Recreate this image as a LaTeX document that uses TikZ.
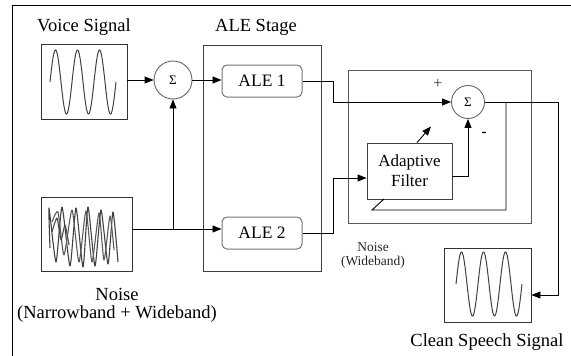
\documentclass[tikz,border=0pt]{standalone}
\usepackage{fontspec}
\setmainfont{Liberation Serif}
\usetikzlibrary{arrows.meta,calc}
\begin{document}
\begin{tikzpicture}[x=1pt,y=-1pt,
  lbl/.style={inner sep=0pt,font=\fontsize{18.5}{21}\selectfont},
  small/.style={inner sep=0pt,align=center,font=\fontsize{13.5}{14}\selectfont,text=black!85},
  sigbox/.style={draw=black!80,line width=0.9pt,inner sep=0pt},
  alebox/.style={draw=black!55,line width=1pt,rounded corners=5pt,minimum width=80pt,minimum height=32pt,inner sep=0pt,font=\fontsize{17.5}{20}\selectfont},
  sumc/.style={circle,draw=black!60,line width=0.9pt,inner sep=0pt,font=\fontsize{13}{13}\selectfont},
  frame/.style={draw=black!75,line width=0.9pt,inner sep=0pt},
  arr/.style={-{Triangle[length=9pt,width=7pt]},line width=0.9pt},
  ln/.style={line width=0.9pt},
  wave/.style={line width=1pt,black!75},
  scrib/.style={line width=1.1pt,black!75,line join=round}]
\useasboundingbox (0,0) rectangle (571,356);
% outer frame (left and top edges)
\draw[line width=1pt] (12,357) -- (12,5) -- (572,5);

% voice
\node[lbl] (voicelbl) at (84,27) {Voice Signal};
\node[sigbox,minimum width=86pt,minimum height=75pt] (voice) at (84,81.5) {};
\draw[wave] plot[variable=\t,domain=0:66,samples=120] ({50+\t},{82-32*sin(16.3636*\t)});

% sum 1
\node[sumc,minimum size=38pt] (s1) at (173,80) {Σ};
\draw[arr] (voice.east |- s1) -- (s1.west);

% ALE stage
\node[lbl] (stagelbl) at (256,27) {ALE Stage};
\node[frame,minimum width=118pt,minimum height=226pt] (stage) at (262,158) {};
\node[alebox] (ale1) at (262,81) {ALE 1};
\node[alebox] (ale2) at (262,233) {ALE 2};
\draw[arr] (s1.east) -- (s1.east -| ale1.west);

% noise
\node[sigbox,minimum width=91pt,minimum height=74pt] (noise) at (86.5,234) {};
\draw[scrib] plot[smooth,tension=0.35] coordinates {(50,248) (49,208) (56,262) (62,207) (70,266) (76,208) (83,267) (88,207) (95,266) (101,210) (108,264) (113,212) (118,262)};
\draw[scrib,black!65] plot[smooth,tension=0.35] coordinates {(52,222) (58,212) (64,255) (72,210) (79,262) (86,211) (92,262) (99,213) (104,260) (110,216) (114,250)};
\draw[scrib,black!70] plot[smooth,tension=0.35] coordinates {(52,232) (57,218) (61,240) (65,225) (69,245)};
\node[lbl,align=center] (noiselbl) at (117,305) {Noise\\[-3pt](Narrowband + Wideband)};
\coordinate (j) at (173,229);
\draw[arr] (j -| noise.east) -- (j -| ale2.west);
\draw[arr] (j) -- (s1.south);

% adaptive filter section
\node[frame,draw=black!65,minimum width=183pt,minimum height=153pt] (filt) at (439.5,146.5) {};
\node[sumc,minimum size=33pt] (s2) at (468,102) {Σ};
\node[inner sep=0pt,font=\fontsize{16}{16}\selectfont,text=black!80] (plus) at (438,84) {+};
\node[inner sep=0pt,font=\bfseries\fontsize{15}{15}\selectfont] (minus) at (484,134) {-};
\node[frame,minimum width=85pt,minimum height=56pt,align=center,font=\fontsize{17}{20}\selectfont] (af) at (409.5,171) {Adaptive\\Filter};
\draw[arr] (ale1.east) -- ++(31,0) |- (s2.west);
\draw[arr] (ale2.east) -- ++(31,0) |- ([yshift=-7pt]af.west);
\draw[arr] ([yshift=-5pt]af.east) -| (s2.south);
\draw[arr] ([xshift=7.5pt]af.north) -- ++(14,-16);

% clean speech
\node[sigbox,minimum width=87pt,minimum height=74pt] (clean) at (487.5,285) {};
\draw[wave] plot[variable=\t,domain=0:66,samples=120] ({456+\t},{284-32*sin(16.3636*\t)});
\node[lbl] (cleanlbl) at (487,342) {Clean Speech Signal};
\coordinate (o1) at (558,102);
\draw[arr] (s2.east) -- (o1) |- ([yshift=-10pt]clean.east);

% feedback (error) path
\coordinate (fb) at (506,102);
\coordinate (fb1) at (506,210);
\coordinate (fb2) at (372,210);
\coordinate (fb3) at (384,199);
\draw[ln] (fb) -- (fb1) -- (fb2) -- (fb3);

\node[small] (nwlbl) at (373,255) {Noise\\(Wideband)};
\end{tikzpicture}
\end{document}
